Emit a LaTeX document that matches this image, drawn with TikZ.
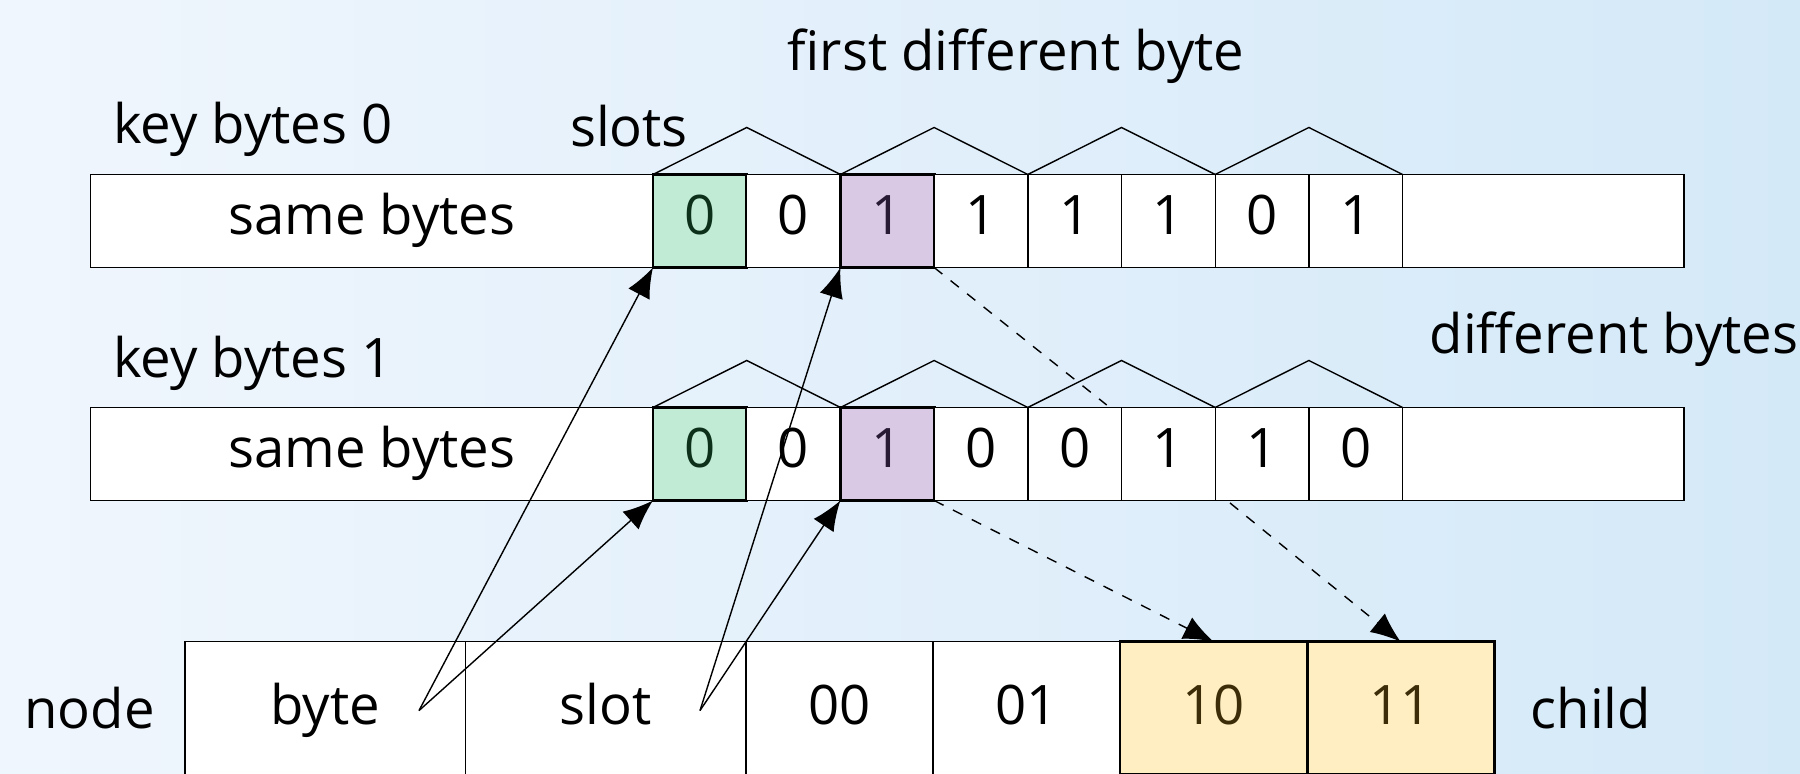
\documentclass[tikz,border=0pt]{standalone}
\usepackage{fontspec}
\setmainfont{Open Sans}
\usetikzlibrary{shapes,arrows.meta,positioning}
\definecolor{bgleft}{RGB}{240,246,253}
\definecolor{bgright}{RGB}{212,233,248}
\definecolor{slotgreen}{RGB}{193,235,213}
\definecolor{slotpurple}{RGB}{217,201,229}
\definecolor{childyellow}{RGB}{255,238,193}
\definecolor{greentext}{RGB}{12,48,26}
\definecolor{purpletext}{RGB}{40,26,52}
\definecolor{yellowtext}{RGB}{60,45,8}
\tikzstyle{cell} = [rectangle, draw, fill=white, outer sep=0pt, inner sep=0pt,
    minimum width=0.937cm, minimum height=0.93cm, text height=0.76em, text depth=0pt]
\tikzstyle{same} = [cell, minimum width=5.623cm]
\tikzstyle{rest} = [cell, minimum width=2.814cm]
\tikzstyle{field} = [cell, minimum width=2.805cm, minimum height=1.33cm, text height=0.9em]
\tikzstyle{entry} = [cell, minimum width=1.871cm, minimum height=1.33cm, text height=0.9em]
\tikzstyle{hitgreen} = [fill=slotgreen, text=greentext, line width=0.8pt]
\tikzstyle{hitpurple} = [fill=slotpurple, text=purpletext, line width=0.8pt]
\tikzstyle{hityellow} = [fill=childyellow, text=yellowtext, line width=0.8pt]
\tikzstyle{txt} = [inner sep=0pt]
\tikzstyle{line} = [draw, -{Latex[length=0.3cm,width=0.24cm]}]
\tikzstyle{dline} = [line, dashed]

\begin{document}
\begin{tikzpicture}[node distance=0pt, font=\fontsize{15.5}{18}\selectfont]
		\useasboundingbox (0,0) rectangle (18,7.74);
		\shade [left color=bgleft, right color=bgright] (0,0) rectangle (18,7.74);

		% key bytes 0
		\node [same] (s0) at (3.7185,5.53) {same bytes};
		\node [cell, hitgreen, right=of s0] (a1) {0};
		\node [cell, right=of a1] (a2) {0};
		\node [cell, hitpurple, right=of a2] (a3) {1};
		\node [cell, right=of a3] (a4) {1};
		\node [cell, right=of a4] (a5) {1};
		\node [cell, right=of a5] (a6) {1};
		\node [cell, right=of a6] (a7) {0};
		\node [cell, right=of a7] (a8) {1};
		\node [rest, right=of a8] (e0) {};

		% key bytes 1
		\node [same] (s1) at (3.7185,3.2) {same bytes};
		\node [cell, hitgreen, right=of s1] (b1) {0};
		\node [cell, right=of b1] (b2) {0};
		\node [cell, hitpurple, right=of b2] (b3) {1};
		\node [cell, right=of b3] (b4) {0};
		\node [cell, right=of b4] (b5) {0};
		\node [cell, right=of b5] (b6) {1};
		\node [cell, right=of b6] (b7) {1};
		\node [cell, right=of b7] (b8) {0};
		\node [rest, right=of b8] (e1) {};

		% slot roofs
		\draw (a1.north west) -- +(0.937,0.47) -- (a2.north east);
		\draw (a3.north west) -- +(0.937,0.47) -- (a4.north east);
		\draw (a5.north west) -- +(0.937,0.47) -- (a6.north east);
		\draw (a7.north west) -- +(0.937,0.47) -- (a8.north east);
		\draw (b1.north west) -- +(0.937,0.47) -- (b2.north east);
		\draw (b3.north west) -- +(0.937,0.47) -- (b4.north east);
		\draw (b5.north west) -- +(0.937,0.47) -- (b6.north east);
		\draw (b7.north west) -- +(0.937,0.47) -- (b8.north east);

		% node
		\node [field] (byte) at (3.2505,0.658) {byte};
		\node [field, right=of byte] (slot) {slot};
		\node [entry, right=of slot] (c00) {00};
		\node [entry, right=of c00] (c01) {01};
		\node [entry, hityellow, right=of c01] (c10) {10};
		\node [entry, hityellow, right=of c10] (c11) {11};

		\node [txt] (first) at (10.16,7.18) {first different byte};
		\node [txt, anchor=west] (key0) at (1.125,6.45) {key bytes 0};
		\node [txt] (slots) at (6.29,6.48) {slots};
		\node [txt, anchor=west] (key1) at (1.125,4.11) {key bytes 1};
		\node [txt, anchor=west] (diff) at (14.29,4.35) {different bytes};
		\node [txt] (nodetxt) at (0.895,0.66) {node};
		\node [txt, anchor=west] (child) at (15.3,0.66) {child};

		\coordinate (bytept) at (4.19,0.634);
		\coordinate (slotpt) at (7.00,0.634);
		\coordinate (cross) at (11.067,3.69);
		\coordinate (tail) at (12.30,2.71);

		\path [line] (bytept) -- (a1.south west);
		\path [line] (bytept) -- (b1.south west);
		\path [line] (slotpt) -- (a3.south west);
		\path [line] (slotpt) -- (b3.south west);
		\path [draw, dashed] (a3.south east) -- (cross);
		\path [dline] (b3.south east) -- (c10.north);
		\path [dline] (tail) -- (c11.north);
	\end{tikzpicture}
\end{document}
